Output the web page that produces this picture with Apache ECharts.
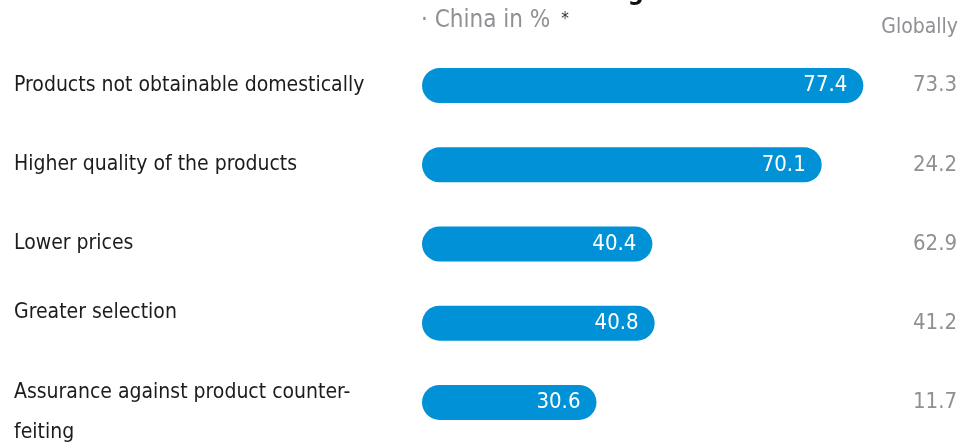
<!DOCTYPE html>
<html>
<head>
<meta charset="utf-8">
<script src="https://cdn.jsdelivr.net/npm/echarts@6/dist/echarts.min.js"></script>
<style>
  html, body { margin: 0; padding: 0; background: #ffffff; }
  #chart { width: 962px; height: 444px; }
</style>
</head>
<body>
<div id="chart"></div>
<script>
// Reasons for ordering abroad: China (bars) vs. global share (right column), in %
const categories = [
  'Products not obtainable domestically',
  'Higher quality of the products',
  'Lower prices',
  'Greater selection',
  'Assurance against product counter-\nfeiting'
];
const chinaValues = [77.4, 70.1, 40.4, 40.8, 30.6];
const globalValues = [73.3, 24.2, 62.9, 41.2, 11.7];

const FONT = '"Liberation Sans Narrow", "DejaVu Sans Condensed", "Liberation Sans", sans-serif';
const BLUE = '#0091d7';
const GREY = '#8e9094';
const INK = '#1c1c1c';

const chart = echarts.init(document.getElementById('chart'), null, { renderer: 'canvas' });

// small vertical nudges so the left-hand labels sit where the typesetting put them
const labelNudge = ['n0', 'n1', 'n2', 'n3', 'n4'];

chart.setOption({
  animation: false,
  backgroundColor: '#ffffff',
  textStyle: { fontFamily: FONT },
  graphic: [{
    type: 'text',
    left: 377,
    top: -19,
    style: {
      text: 'Reasons for ordering abroad',
      font: 'bold 25px ' + FONT,
      fill: '#111111'
    }
  }],
  title: [{
    text: '· China in % {s|*}',
    left: 421,
    top: 9,
    padding: 0,
    textStyle: {
      fontFamily: FONT,
      fontSize: 24,
      fontWeight: 'normal',
      color: GREY,
      rich: { s: { fontSize: 17, color: '#333333', padding: [0, 0, 2, 4] } }
    }
  }, {
    text: 'Globally',
    right: 4,
    top: 17,
    padding: 0,
    textStyle: { fontFamily: FONT, fontSize: 21, fontWeight: 'normal', color: GREY }
  }],
  grid: { left: 422, right: 4, top: 46, bottom: 2, containLabel: false },
  xAxis: {
    type: 'value',
    min: 0,
    max: 94,
    show: false
  },
  yAxis: [{
    type: 'category',
    data: categories,
    inverse: true,
    axisLine: { show: false },
    axisTick: { show: false },
    axisLabel: {
      align: 'left',
      margin: 408,
      fontFamily: FONT,
      fontSize: 21,
      color: INK,
      lineHeight: 40,
      formatter: (v, i) => v.split('\n').map(line => '{' + labelNudge[i] + '|' + line + '}').join('\n'),
      rich: {
        n0: { fontSize: 21, color: INK, lineHeight: 40, padding: [0, 0, 0, 0] },
        n1: { fontSize: 21, color: INK, lineHeight: 40, padding: [0, 0, 0, 0] },
        n2: { fontSize: 21, color: INK, lineHeight: 40, padding: [0, 0, 0, 0] },
        n3: { fontSize: 21, color: INK, lineHeight: 40, padding: [0, 0, 22, 0] },
        n4: { fontSize: 21, color: INK, lineHeight: 40, padding: [20, 0, 0, 0] }
      }
    }
  }, {
    type: 'category',
    position: 'right',
    data: globalValues.map(v => v.toFixed(1)),
    inverse: true,
    axisLine: { show: false },
    axisTick: { show: false },
    axisLabel: {
      inside: true,
      margin: 1,
      fontFamily: FONT,
      fontSize: 22,
      color: GREY
    }
  }],
  series: [{
    type: 'bar',
    data: chinaValues,
    yAxisIndex: 0,
    barWidth: 35,
    itemStyle: { color: BLUE, borderRadius: 17.5 },
    label: {
      show: true,
      position: 'insideRight',
      distance: 16,
      fontFamily: FONT,
      fontSize: 22,
      color: '#ffffff',
      formatter: p => p.value.toFixed(1)
    }
  }]
});
</script>
</body>
</html>
